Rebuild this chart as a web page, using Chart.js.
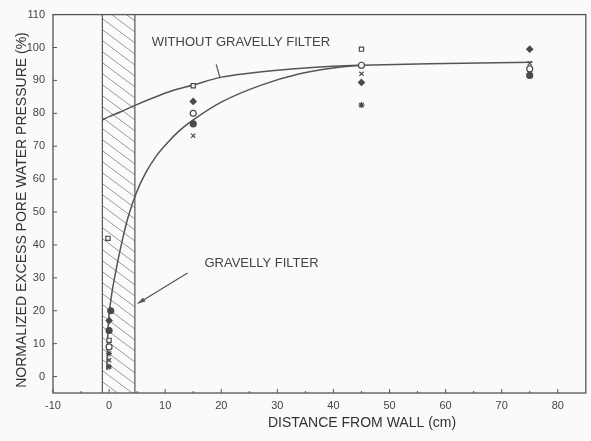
<!DOCTYPE html>
<html>
<head>
<meta charset="utf-8">
<script src="https://cdn.jsdelivr.net/npm/chart.js@4.4.0/dist/chart.umd.min.js"></script>
<style>
  html, body { margin: 0; padding: 0; background: #fafafa; }
</style>
</head>
<body>
<canvas id="myChart" width="591" height="441"></canvas>
<script>
const ctx = document.getElementById('myChart');

// axis ticks
const xTicks = [-10, 0, 10, 20, 30, 40, 50, 60, 70, 80];
const yTicks = [0, 10, 20, 30, 40, 50, 60, 70, 80, 90, 100, 110];

// hatched wall zone (cm)
const filterBand = [-1.2, 4.6];

// fitted curves [x, y]
const withoutFilterCurve = [[-1.2, 78], [0, 79], [2, 80.4], [4.6, 82.4], [8, 84.8], [11, 86.7], [15, 88.6],
  [20, 91], [25, 92.2], [30, 93.1], [35, 93.8], [40, 94.3], [45, 94.6], [57, 95.1], [66, 95.3], [75.5, 95.5]];
const gravellyFilterCurve = [[-0.4, 2], [-0.2, 14], [0.3, 23], [1.2, 32], [2.3, 41], [3.4, 48.5], [4.9, 56],
  [6.5, 61.8], [8.5, 67.2], [10.5, 71.2], [12.6, 74.8], [15, 78], [20, 83.4], [27, 88.5], [34, 92], [40, 93.8], [45, 94.6]];

// measured points
const openSquare = [[-0.2, 42], [0, 11], [15, 88.4], [45, 99.5]];
const filledDiamond = [[0, 17], [15, 83.6], [45, 89.4], [75, 99.5]];
const openCircle = [[0, 9], [15, 80], [45, 94.6], [75, 93.5]];
const filledCircle = [[0, 14], [0.3, 20], [15, 76.8], [75, 91.5]];
const crossMark = [[0, 5], [15, 73.2], [45, 92], [75, 95.2]];
const starMark = [[0, 7], [0, 3], [45, 82.5]];

const ink = '#4a4a4a';
const pts = arr => arr.map(p => ({x: p[0], y: p[1]}));

function curveSet(arr) {
  return {
    type: 'line', data: pts(arr), showLine: true, borderColor: '#555', borderWidth: 1.5,
    pointRadius: 0, cubicInterpolationMode: 'monotone', fill: false, order: 2
  };
}
function markSet(arr, style, filled) {
  return {
    data: pts(arr), pointStyle: style, pointRadius: 3, pointBorderWidth: 1.2,
    borderColor: ink, backgroundColor: filled ? ink : '#fafafa', showLine: false, order: 1
  };
}

const paperPlugin = {
  id: 'paper',
  beforeDatasetsDraw(chart) {
    const c = chart.ctx, a = chart.chartArea, x = chart.scales.x;
    const left = x.getPixelForValue(filterBand[0]);
    const right = x.getPixelForValue(filterBand[1]);
    c.save();
    c.beginPath();
    c.rect(left, a.top, right - left, a.bottom - a.top);
    c.clip();
    c.strokeStyle = '#999';
    c.lineWidth = 1;
    c.beginPath();
    for (let yy = a.top - 40; yy < a.bottom + 10; yy += 11) {
      c.moveTo(left, yy);
      c.lineTo(right, yy + (right - left) * 0.75);
    }
    c.stroke();
    c.restore();
    c.save();
    c.strokeStyle = '#555';
    c.lineWidth = 1.2;
    c.beginPath();
    c.moveTo(left, a.top); c.lineTo(left, a.bottom);
    c.moveTo(right, a.top); c.lineTo(right, a.bottom);
    c.stroke();
    c.restore();
  },
  afterDraw(chart) {
    const c = chart.ctx, a = chart.chartArea, x = chart.scales.x, y = chart.scales.y;
    c.save();
    c.strokeStyle = '#555';
    c.lineWidth = 1.3;
    c.strokeRect(a.left, a.top, a.right - a.left, a.bottom - a.top);
    c.lineWidth = 1;
    c.beginPath();
    yTicks.forEach(v => {
      const py = y.getPixelForValue(v);
      c.moveTo(a.left, py); c.lineTo(a.left + 4, py);
    });
    xTicks.forEach(v => {
      const px = x.getPixelForValue(v);
      c.moveTo(px, a.bottom); c.lineTo(px, a.bottom - 4);
      const pm = x.getPixelForValue(v + 5);
      if (pm < a.right) { c.moveTo(pm, a.bottom); c.lineTo(pm, a.bottom - 2); }
    });
    c.stroke();

    // annotations
    c.fillStyle = '#444';
    c.font = '13px "Liberation Sans", Arial, sans-serif';
    c.textBaseline = 'middle';
    c.textAlign = 'left';
    c.fillText('WITHOUT GRAVELLY FILTER', x.getPixelForValue(7.6), y.getPixelForValue(101.5));
    c.fillText('GRAVELLY FILTER', x.getPixelForValue(17), y.getPixelForValue(34.3));
    c.strokeStyle = '#555';
    c.lineWidth = 1.2;
    c.beginPath();
    c.moveTo(x.getPixelForValue(19.1), y.getPixelForValue(94.9));
    c.lineTo(x.getPixelForValue(19.8), y.getPixelForValue(90.6));
    const ax0 = x.getPixelForValue(14), ay0 = y.getPixelForValue(31.5);
    const ax1 = x.getPixelForValue(5.1), ay1 = y.getPixelForValue(22.2);
    c.moveTo(ax0, ay0); c.lineTo(ax1, ay1);
    c.stroke();
    const ang = Math.atan2(ay1 - ay0, ax1 - ax0);
    c.fillStyle = '#555';
    c.beginPath();
    c.moveTo(ax1, ay1);
    c.lineTo(ax1 - 8 * Math.cos(ang - 0.3), ay1 - 8 * Math.sin(ang - 0.3));
    c.lineTo(ax1 - 8 * Math.cos(ang + 0.3), ay1 - 8 * Math.sin(ang + 0.3));
    c.closePath();
    c.fill();

    // axis titles
    c.fillStyle = '#333';
    c.font = '14px "Liberation Sans", Arial, sans-serif';
    c.textAlign = 'center';
    c.fillText('DISTANCE FROM WALL (cm)', a.left + 0.58 * (a.right - a.left), 423);
    c.translate(22, 210);
    c.rotate(-Math.PI / 2);
    c.font = '14px "Liberation Sans", Arial, sans-serif';
    c.fillText('NORMALIZED EXCESS PORE WATER PRESSURE (%)', 0, 0);
    c.restore();
  }
};

const chart = new Chart(ctx, {
  type: 'scatter',
  data: {
    datasets: [
      curveSet(withoutFilterCurve),
      curveSet(gravellyFilterCurve),
      markSet(openSquare, 'rect', false),
      markSet(filledDiamond, 'rectRot', true),
      markSet(openCircle, 'circle', false),
      markSet(filledCircle, 'circle', true),
      markSet(crossMark, 'crossRot', false),
      markSet(starMark, 'star', false)
    ]
  },
  options: {
    responsive: false,
    animation: false,
    layout: { padding: { top: 12, right: 5, left: 0, bottom: 0 } },
    plugins: { legend: { display: false }, tooltip: { enabled: false } },
    scales: {
      x: {
        type: 'linear', min: -10, max: 85,
        afterBuildTicks: s => { s.ticks = xTicks.map(v => ({value: v})); },
        afterFit: s => { s.height = 48; },
        grid: { display: false, drawTicks: false },
        border: { display: false },
        ticks: { padding: 6, color: '#444', font: { size: 11, family: '"Liberation Sans", Arial, sans-serif' } }
      },
      y: {
        type: 'linear', min: -5, max: 110,
        afterBuildTicks: s => { s.ticks = yTicks.map(v => ({value: v})); },
        afterFit: s => { s.width = 53; },
        grid: { display: false, drawTicks: false },
        border: { display: false },
        ticks: { padding: 8, color: '#444', font: { size: 11, family: '"Liberation Sans", Arial, sans-serif' } }
      }
    }
  },
  plugins: [paperPlugin]
});
</script>
</body>
</html>
